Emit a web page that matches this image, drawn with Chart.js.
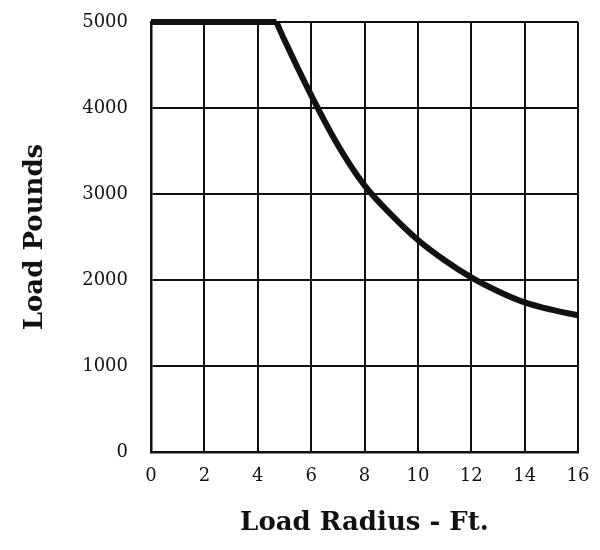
<!DOCTYPE html>
<html>
<head>
<meta charset="utf-8">
<script src="https://cdn.jsdelivr.net/npm/chart.js@4"></script>
<style>
  html, body { margin: 0; padding: 0; background: #fff; }
  #wrap { width: 600px; height: 550px; }
</style>
</head>
<body>
<div id="wrap"><canvas id="chart" width="600" height="550"></canvas></div>
<script>
// load radius (ft) and rated load (lb)
const radiusFt = [0, 4.7, 5, 6, 7, 8, 9, 10, 11, 12, 13, 14, 15, 16];
const loadLbs = [5000, 5000, 4790, 4150, 3570, 3100, 2760, 2465, 2230, 2030, 1870, 1740, 1655, 1590];
const xTicks = [0, 2, 4, 6, 8, 10, 12, 14, 16];
const yTicks = [0, 1000, 2000, 3000, 4000, 5000];

const serif = "'DejaVu Serif', 'Liberation Serif', serif";

const points = radiusFt.map((r, i) => ({ x: r, y: loadLbs[i] }));
// flat max-load part and the falling part meet in a sharp corner
const flatPart = points.slice(0, 2);
const curvePart = points.slice(1);

// fixed box sizes so the plot frame sits where the original one does
function fixBox(s, w, h) {
  if (w) s.width = w;
  if (h) s.height = h;
  s.paddingTop = 0;
  s.paddingBottom = 0;
  s.paddingLeft = 0;
  s.paddingRight = 0;
}

const lineStyle = {
  borderColor: "#111",
  borderWidth: 6,
  pointRadius: 0,
  cubicInterpolationMode: "monotone",
  borderCapStyle: "butt",
  clip: 10
};

const ctx = document.getElementById("chart").getContext("2d");
new Chart(ctx, {
  type: "line",
  data: {
    datasets: [
      { ...lineStyle, data: flatPart },
      { ...lineStyle, data: curvePart }
    ]
  },
  options: {
    responsive: false,
    animation: false,
    layout: { padding: { top: 22, right: 22, left: 0, bottom: 0 } },
    plugins: { legend: { display: false }, tooltip: { enabled: false } },
    scales: {
      x: {
        type: "linear",
        min: 0,
        max: 16,
        afterBuildTicks: (s) => { s.ticks = xTicks.map(v => ({ value: v })); },
        afterFit: (s) => fixBox(s, 0, 98),
        grid: { color: "#111", lineWidth: 2, drawTicks: false },
        border: { color: "#111", width: 2.5 },
        ticks: { color: "#111", padding: 14, font: { family: serif, size: 18 }, callback: (v) => String(v) },
        title: {
          display: true,
          text: "Load Radius - Ft.",
          color: "#111",
          font: { family: serif, size: 26, weight: "bold" },
          padding: { top: 0, bottom: 11 }
        }
      },
      y: {
        min: 0,
        max: 5000,
        afterBuildTicks: (s) => { s.ticks = yTicks.map(v => ({ value: v })); },
        afterFit: (s) => fixBox(s, 151, 0),
        grid: { color: "#111", lineWidth: 2, drawTicks: false },
        border: { color: "#111", width: 2.5 },
        ticks: { color: "#111", padding: 23, font: { family: serif, size: 18 }, callback: (v) => String(v) },
        title: {
          display: true,
          text: "Load Pounds",
          color: "#111",
          font: { family: serif, size: 26, weight: "bold" },
          padding: { top: 20, bottom: 0 }
        }
      }
    }
  }
});
</script>
</body>
</html>
